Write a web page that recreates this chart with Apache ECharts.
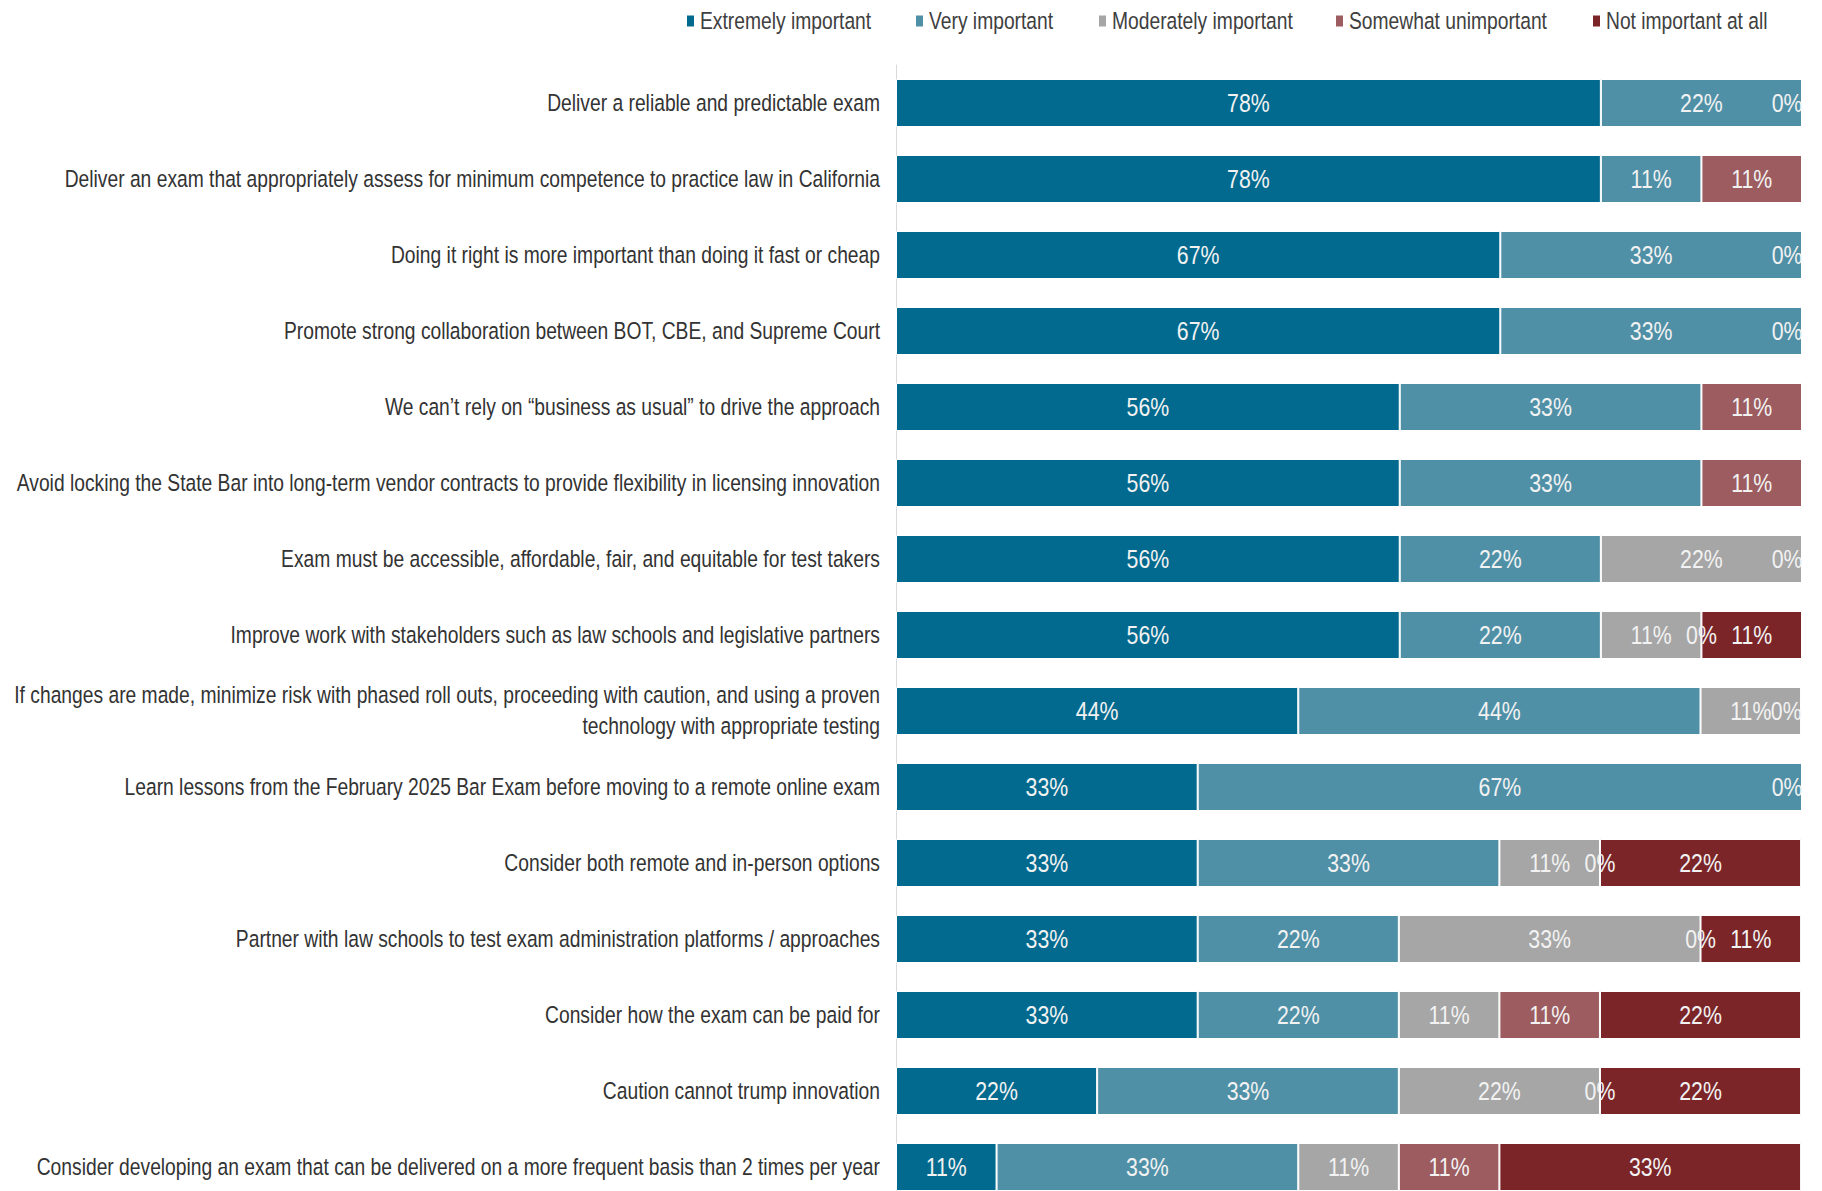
<!DOCTYPE html>
<html>
<head>
<meta charset="utf-8">
<script src="https://cdn.jsdelivr.net/npm/echarts@6/dist/echarts.min.js"></script>
<style>
  html, body { margin: 0; padding: 0; background: #fff; }
  #chart { width: 1822px; height: 1191px; }
</style>
</head>
<body>
<div id="chart"></div>
<script>
// Survey priorities: share of respondents rating each statement (percent)
const categories = [
  'Deliver a reliable and predictable exam',
  'Deliver an exam that appropriately assess for minimum competence to practice law in California',
  'Doing it right is more important than doing it fast or cheap',
  'Promote strong collaboration between BOT, CBE, and Supreme Court',
  'We can\u2019t rely on \u201cbusiness as usual\u201d to drive the approach',
  'Avoid locking the State Bar into long-term vendor contracts to provide flexibility in licensing innovation',
  'Exam must be accessible, affordable, fair, and equitable for test takers',
  'Improve work with stakeholders such as law schools and legislative partners',
  'If changes are made, minimize risk with phased roll outs, proceeding with caution, and using a proven\ntechnology with appropriate testing',
  'Learn lessons from the February 2025 Bar Exam before moving to a remote online exam',
  'Consider both remote and in-person options',
  'Partner with law schools to test exam administration platforms / approaches',
  'Consider how the exam can be paid for',
  'Caution cannot trump innovation',
  'Consider developing an exam that can be delivered on a more frequent basis than 2 times per year'
];

const seriesNames = ['Extremely important', 'Very important', 'Moderately important', 'Somewhat unimportant', 'Not important at all'];

// null = no response recorded for that rating
const extremelyImportant = [77.8, 77.8, 66.7, 66.7, 55.6, 55.6, 55.6, 55.6, 44.4, 33.3, 33.3, 33.3, 33.3, 22.2, 11.1];
const veryImportant      = [22.2, 11.1, 33.3, 33.3, 33.3, 33.3, 22.2, 22.2, 44.4, 66.7, 33.3, 22.2, 22.2, 33.3, 33.3];
const moderatelyImportant= [0,    null, 0,    0,    null, null, 22.2, 11.1, 11.1, 0,    11.1, 33.3, 11.1, 22.2, 11.1];
const somewhatUnimportant= [null, 11.1, null, null, 11.1, 11.1, 0,    0,    0,    null, 0,    0,    11.1, 0,    11.1];
const notImportantAtAll  = [null, null, null, null, null, null, null, 11.1, null, null, 22.2, 11.1, 22.2, 22.2, 33.3];

const colors = ['#036A8F', '#4F90A7', '#A6A6A6', '#9D5C60', '#7B2529'];
const FONT = '"Liberation Sans", Arial, sans-serif';
// horizontal squeeze applied to every text run, giving a narrow-sans look
const CONDENSE = 0.82;

// left edge of each legend entry
const legendLeft = [685, 914, 1097, 1334, 1591];

const columns = [extremelyImportant, veryImportant, moderatelyImportant, somewhatUnimportant, notImportantAtAll];

// a zero entry with nothing stacked after it keeps its label inside the bar end
function buildData(si) {
  return columns[si].map((v, row) => {
    if (v === null) return null;
    const atEnd = v === 0 && columns.slice(si + 1).every(c => c[row] === null);
    if (atEnd) {
      return { value: v, label: { position: 'insideRight', distance: 0 } };
    }
    return v;
  });
}

const chart = echarts.init(document.getElementById('chart'), null, { renderer: 'svg' });

chart.setOption({
  animation: false,
  color: colors,
  legend: seriesNames.map((name, i) => ({
    top: 9,
    left: legendLeft[i],
    padding: 0,
    icon: 'rect',
    itemWidth: 9,
    itemHeight: 13,
    selectedMode: false,
    textStyle: { color: '#404040', fontSize: 23.5, fontFamily: FONT },
    data: [name]
  })),
  grid: { left: 896, right: 20, top: 65, height: 1140, containLabel: false, outerBoundsMode: 'none' },
  xAxis: {
    type: 'value', min: 0, max: 100, show: false
  },
  yAxis: {
    type: 'category',
    inverse: true,
    data: categories,
    axisLine: { show: true, lineStyle: { color: '#D9D9D9', width: 1 } },
    axisTick: { show: false },
    axisLabel: {
      color: '#333333', fontSize: 23.5, fontFamily: FONT, margin: 16,
      align: 'right', lineHeight: 31
    },
    splitLine: { show: false }
  },
  series: seriesNames.map((name, si) => ({
    name,
    type: 'bar',
    stack: 'total',
    barWidth: 48,
    data: buildData(si),
    itemStyle: { borderColor: '#FFFFFF', borderWidth: 1 },
    label: {
      show: true,
      position: 'inside',
      color: '#F2F2F2',
      fontSize: 26,
      fontFamily: FONT,
      formatter: p => Math.round(p.value) + '%'
    }
  }))
});

// squeeze each text run around its own anchor point
function condenseText() {
  const svg = document.querySelector('#chart svg');
  if (!svg) return;
  svg.querySelectorAll('text').forEach(t => {
    const tr = t.getAttribute('transform') || '';
    if (tr.indexOf('scale(') !== -1) return;
    const x = parseFloat(t.getAttribute('x') || '0') || 0;
    t.setAttribute('transform', tr + ' translate(' + x + ' 0) scale(' + CONDENSE + ' 1) translate(' + (-x) + ' 0)');
  });
}
chart.getZr().flush();
condenseText();
chart.on('finished', condenseText);
setTimeout(condenseText, 0);
</script>
</body>
</html>
